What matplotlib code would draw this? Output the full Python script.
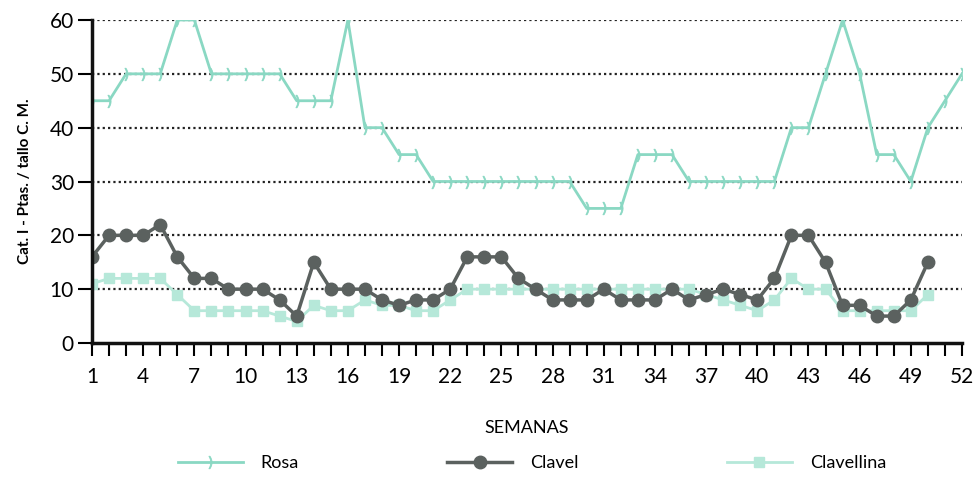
import numpy as np
import matplotlib.pyplot as plt
from matplotlib.lines import Line2D

plt.rcParams['font.family'] = ['Lato', 'DejaVu Sans']

weeks = np.arange(1, 53)
tick_weeks = list(range(1, 53, 3))

rosa = [45, 45, 50, 50, 50, 60, 60, 50, 50, 50, 50, 50, 45, 45, 45, 60,
        40, 40, 35, 35, 30, 30, 30, 30, 30, 30, 30, 30, 30, 25, 25, 25,
        35, 35, 35, 30, 30, 30, 30, 30, 30, 40, 40, 50, 60, 50, 35, 35,
        30, 40, 45, 50]
clavel = [16, 20, 20, 20, 22, 16, 12, 12, 10, 10, 10, 8, 5, 15, 10, 10,
          10, 8, 7, 8, 8, 10, 16, 16, 16, 12, 10, 8, 8, 8, 10, 8,
          8, 8, 10, 8, 9, 10, 9, 8, 12, 20, 20, 15, 7, 7, 5, 5,
          8, 15]
clavellina = [11, 12, 12, 12, 12, 9, 6, 6, 6, 6, 6, 5, 4, 7, 6, 6,
              8, 7, 7, 6, 6, 8, 10, 10, 10, 10, 10, 10, 10, 10, 10, 10,
              10, 10, 10, 10, 9, 8, 7, 6, 8, 12, 10, 10, 6, 6, 6, 6,
              6, 9]

c_rosa = '#8ad8c3'
c_clavel = '#5b615f'
c_clavellina = '#b6e8d9'

fig = plt.figure(figsize=(9.74, 4.78), dpi=100)
ax = fig.add_axes([92/974, 1 - 343/478, 870/974, 323/478])

# dotted grid
for yv in range(10, 61, 10):
    ax.axhline(yv, color='#222222', lw=1.6, ls=(0, (1, 1.4)), zorder=1)

ax.plot(weeks, rosa, color=c_rosa, lw=2, marker='$)$', ms=9,
        markeredgewidth=0.6, zorder=3)
ax.plot(weeks[:len(clavellina)], clavellina, color=c_clavellina, lw=2,
        marker='s', ms=7, zorder=3)
ax.plot(weeks[:len(clavel)], clavel, color=c_clavel, lw=2.5,
        marker='o', ms=9, zorder=4)

ax.set_xlim(1, 52)
ax.set_ylim(0, 60)
ax.set_xticks(tick_weeks)
ax.set_xticks(weeks, minor=True)
ax.set_yticks(range(0, 61, 10))
ax.tick_params(axis='x', which='both', direction='out', length=9, width=1.5,
               labelsize=15, pad=8)
ax.tick_params(axis='y', direction='out', length=10, width=1.5,
               labelsize=15, pad=3)
for s in ['top', 'right']:
    ax.spines[s].set_visible(False)
for s in ['left', 'bottom']:
    ax.spines[s].set_linewidth(2.5)
    ax.spines[s].set_color('#111111')
ax.spines['left'].set_zorder(5)

ax.set_ylabel('Cat. I - Ptas. / tallo C. M.', fontsize=11, fontweight='bold',
              labelpad=13)
ax.set_xlabel('SEMANAS', fontsize=13, labelpad=24)

handles = [
    Line2D([], [], color=c_rosa, lw=2, marker='$)$', ms=9, markeredgewidth=0.6),
    Line2D([], [], color=c_clavel, lw=2.5, marker='o', ms=9),
    Line2D([], [], color=c_clavellina, lw=2, marker='s', ms=7),
]
fig.legend(handles, ['Rosa', 'Clavel', 'Clavellina'], loc='center',
           bbox_to_anchor=(0.546, 0.031), ncol=3, frameon=False, fontsize=13,
           handlelength=3.6, handletextpad=1.0, columnspacing=8.2)

fig.savefig('out.png', dpi=100)
